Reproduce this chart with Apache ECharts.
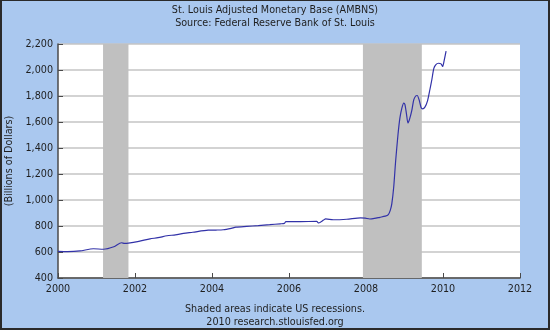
<!DOCTYPE html>
<html>
<head>
<meta charset="utf-8">
<script src="https://cdn.jsdelivr.net/npm/echarts@6/dist/echarts.min.js"></script>
<style>
  html, body { margin: 0; padding: 0; background: #ffffff; }
  #wrap { position: relative; width: 550px; height: 330px; }
  #chart { width: 550px; height: 330px; }
  #frame { position: absolute; left: 0; top: 0; width: 550px; height: 330px; box-sizing: border-box;
           border: 2px solid #2a2a2a; border-top-width: 1px; pointer-events: none; }
</style>
</head>
<body>
<div id="wrap">
  <div id="chart"></div>
  <div id="frame"></div>
</div>
<script>
// Adjusted monetary base, billions of dollars, by decimal year
const years = [
  2000.00, 2000.25, 2000.57, 2000.92, 2001.18, 2001.45, 2001.65, 2001.73, 2001.83,
  2002.10, 2002.39, 2002.60, 2002.83, 2003.05, 2003.26, 2003.50, 2003.90, 2004.10,
  2004.29, 2004.50, 2004.62, 2004.90, 2005.20, 2005.50, 2005.77, 2005.88, 2005.92,
  2006.30, 2006.72, 2006.77, 2006.90, 2006.95, 2007.15, 2007.50, 2007.86, 2007.98,
  2008.10, 2008.22, 2008.36, 2008.50, 2008.58, 2008.63, 2008.67, 2008.72, 2008.77,
  2008.83, 2008.88, 2008.93, 2008.98, 2009.01, 2009.05, 2009.09, 2009.13, 2009.19,
  2009.24, 2009.29, 2009.33, 2009.38, 2009.43, 2009.47, 2009.53, 2009.60, 2009.66,
  2009.71, 2009.76, 2009.81, 2009.88, 2009.95, 2009.99, 2010.03, 2010.08
];
const base = [
  605, 603, 608, 625, 621, 640, 671, 666, 668,
  682, 701, 710, 725, 732, 743, 752, 768, 769,
  771, 782, 791, 797, 803, 810, 817, 820, 834,
  834, 835, 823, 846, 855, 848, 852, 863, 860,
  854, 858, 867, 876, 888, 920, 970, 1100, 1300,
  1500, 1630, 1705, 1745, 1735, 1665, 1592, 1620, 1690,
  1770, 1800, 1804, 1770, 1712, 1701, 1714, 1765, 1850,
  1925, 2010, 2040, 2052, 2047, 2027, 2073, 2145
];

// Recession periods (start, end) in decimal years
const recessions = [[2001.17, 2001.83], [2007.92, 2009.45]];

const xTicks = [2000, 2002, 2004, 2006, 2008, 2010, 2012];
const yTicks = [400, 600, 800, 1000, 1200, 1400, 1600, 1800, 2000, 2200];

const FONT = '"DejaVu Sans Condensed", "DejaVu Sans", sans-serif';
const FS = 10.7;
const TXT = '#1e1e1e';

const chart = echarts.init(document.getElementById('chart'), null, { renderer: 'canvas' });

const withCommas = v => String(v).replace(/\B(?=(\d{3})+(?!\d))/g, ',');
const textStyle = { fontSize: FS, fontWeight: 'normal', color: TXT, fontFamily: FONT };

chart.setOption({
  backgroundColor: '#aac8ef',
  animation: false,
  textStyle: { fontFamily: FONT },
  title: [
    { text: 'St. Louis Adjusted Monetary Base (AMBNS)', left: 'center', top: 5, padding: 0, textStyle },
    { text: 'Source: Federal Reserve Bank of St. Louis', left: 'center', top: 18, padding: 0, textStyle },
    { text: 'Shaded areas indicate US recessions.', left: 'center', top: 304, padding: 0, textStyle },
    { text: '2010 research.stlouisfed.org', left: 'center', top: 316.5, padding: 0, textStyle }
  ],
  grid: { left: 58, right: 30, top: 44, bottom: 52, containLabel: false,
          outerBoundsMode: 'none',
          show: true, backgroundColor: '#ffffff', borderWidth: 0 },
  xAxis: {
    type: 'value',
    min: xTicks[0], max: xTicks[xTicks.length - 1], interval: 2,
    axisLine: { show: true, lineStyle: { color: '#4a4a4a', width: 1.5 } },
    axisTick: { show: true, inside: true, length: 5, lineStyle: { color: '#4a4a4a' } },
    axisLabel: { color: TXT, fontSize: FS, margin: 6, fontFamily: FONT,
                 formatter: v => String(v) },
    splitLine: { show: false }
  },
  yAxis: {
    type: 'value',
    min: yTicks[0], max: yTicks[yTicks.length - 1], interval: 200,
    name: '(Billions of Dollars)',
    nameLocation: 'middle', nameGap: 40,
    nameTextStyle: { color: TXT, fontSize: FS, fontFamily: FONT },
    axisLine: { show: true, lineStyle: { color: '#4a4a4a', width: 1.5 } },
    axisTick: { show: true, inside: true, length: 5, lineStyle: { color: '#4a4a4a' } },
    axisLabel: { color: TXT, fontSize: FS, margin: 5, fontFamily: FONT,
                 formatter: v => withCommas(v) },
    splitLine: { show: true, lineStyle: { color: '#c4c4c4', width: 1.5 } }
  },
  series: [{
    type: 'line',
    data: years.map((t, i) => [t, base[i]]),
    showSymbol: false,
    smooth: 0.25,
    lineStyle: { color: '#3232a8', width: 1.2 },
    z: 3,
    markArea: {
      silent: true,
      itemStyle: { color: '#c0c0c0', opacity: 1 },
      data: recessions.map(r => [{ xAxis: r[0] }, { xAxis: r[1] }])
    }
  }]
});
</script>
</body>
</html>
